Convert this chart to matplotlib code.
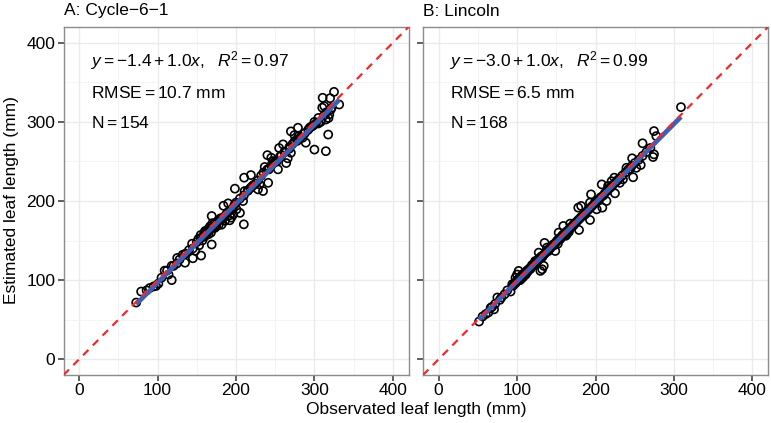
import numpy as np
import matplotlib
matplotlib.use("Agg")
import matplotlib.pyplot as plt

plt.rcParams['font.family'] = ['Liberation Sans', 'DejaVu Sans']
plt.rcParams['mathtext.fontset'] = 'custom'
plt.rcParams['mathtext.rm'] = 'Liberation Sans'
plt.rcParams['mathtext.it'] = 'Liberation Sans:italic'
plt.rcParams['lines.scale_dashes'] = False

# Panel A: Cycle-6-1 (observed, estimated) in mm
obs_a = [72.7, 79, 86, 98, 101, 109, 118, 114, 120.4, 124.6, 135, 136, 145, 144, 148, 155.5, 153, 157,
         160.5, 165, 169, 169, 173, 177.5, 181.6, 184, 186, 190, 192, 194, 196.5, 198.6, 200.6, 205, 209,
         210, 210.4, 211, 219, 228, 230, 234.5, 236.6, 240, 241, 245, 247, 253.5, 255, 260, 264, 266, 270,
         270, 274.6, 279, 279, 289, 294, 300, 310.5, 312.6, 314.6, 314.6, 317.6, 319, 321, 325, 331.6,
         150, 152, 155, 158, 160, 162, 163, 165, 167, 168, 170, 172, 174, 176, 178, 180, 182, 185, 188, 190,
         192, 195, 198, 160, 165, 170, 175, 180, 185, 155, 145, 140, 132, 128, 125, 118, 112, 105, 95, 90,
         300, 305, 308, 310, 312, 315, 318, 320, 322, 305, 298, 285, 280, 275, 268, 262, 258, 250, 245, 240,
         232, 225, 220, 215,
         200, 205, 210, 215, 218, 222, 228, 235, 242, 248, 252, 256, 262, 268, 272, 278, 282, 288, 292, 296,
         302, 135]
est_a = [71.6, 85.5, 87, 92.6, 95.6, 112, 100, 107, 118, 121, 122, 133.5, 127.6, 146, 137, 131, 144, 150,
         162, 158, 145, 181, 166, 175, 170, 194, 175, 197, 175.6, 179, 183, 215.6, 189.5, 185, 200,
         170.5, 229.5, 212.6, 232.8, 214.7, 221, 212.6, 243, 258, 223, 254.7, 250.5, 240, 267, 271.6, 248,
         254, 288, 261, 283.4, 292.6, 278, 273.7, 292.6, 265, 330.5, 320, 263, 303, 284, 309.5, 315.8, 338,
         322,
         148, 152, 153, 156, 160, 158, 163, 162, 168, 160, 166, 171, 169, 174, 170, 178, 177, 180, 184, 186,
         182, 190, 195, 155, 165, 172, 168, 176, 180, 157, 140, 138, 132, 126, 128, 118, 112, 103, 92, 90,
         300, 305, 300, 318, 308, 312, 305, 330, 318, 298, 295, 280, 282, 276, 268, 262, 258, 250, 245, 240,
         232, 222, 218, 213,
         198, 203, 207, 213, 216, 220, 226, 236, 240, 248, 250, 256, 262, 266, 272, 276, 280, 286, 290, 294,
         298, 133]

# Panel B: Lincoln
obs_b = [51.5, 63.4, 66.3, 70.6, 74.8, 87.5, 91.7, 93.8, 98, 100, 102, 104, 108.6, 113, 123, 127.6, 129.7,
         132, 134, 135, 138, 140, 148.7, 153, 155, 159, 163.5, 167.7, 172, 179, 178, 181.7, 186.7, 193,
         194.3, 193, 199.4, 201.5, 208, 208.7, 214, 216, 220.5, 224, 224.8, 231, 235, 239.5, 243.8, 246.7,
         248, 252, 257.7, 260, 273.4, 274.6, 274.6, 277.6, 309,
         95, 97, 99, 100, 101, 102, 103, 104, 105, 106, 107, 108, 110, 111, 112, 114, 115, 116, 118, 120,
         121, 122, 124, 125, 126, 128, 130, 131, 133, 135,
         140, 142, 144, 146, 148, 150, 151, 152, 154, 156, 158, 160, 161, 162, 164, 165, 166, 168, 170, 172,
         174, 176, 178, 180, 182,
         185, 188, 190, 192, 195, 198, 200, 202, 205, 207, 210, 212, 215, 218, 220, 222, 226, 228, 230, 234,
         238, 242, 246, 250, 255, 260, 265, 270, 80, 84, 78, 72, 68, 60, 56,
         98, 102, 106, 109, 113, 117, 119, 123, 127, 129, 132, 137, 139, 143, 147, 153, 157, 163, 167]
est_b = [47.6, 59, 65, 63, 78, 87, 85.5, 94.7, 103, 107, 111.6, 101, 105, 112.4, 124, 134.7, 111.6,
         113.7, 118, 147, 141, 136.8, 136.8, 160, 151.6, 168.4, 158, 171.4, 170.5, 163.4, 191.6, 193.7, 183,
         176, 208.4, 198, 198, 189.5, 221, 191.6, 200, 219, 225, 229.5, 209.7, 223, 227.4, 242, 240, 254,
         230, 242, 245.5, 273, 255.6, 259, 288.4, 282, 318.7,
         93, 96, 98, 100, 99, 101, 103, 100, 104, 106, 103, 108, 109, 107, 111, 112, 113, 115, 116, 118,
         120, 121, 122, 124, 125, 127, 128, 130, 131, 133,
         139, 140, 143, 145, 146, 148, 150, 146, 153, 154, 157, 158, 160, 156, 162, 163, 161, 166, 168, 169,
         172, 174, 176, 178, 180,
         183, 186, 188, 190, 193, 196, 198, 200, 203, 205, 207, 210, 213, 216, 218, 220, 224, 226, 228, 232,
         236, 240, 244, 248, 252, 257, 262, 267, 78, 82, 75, 70, 66, 57, 54,
         96, 100, 104, 108, 110, 114, 119, 121, 125, 128, 129, 135, 137, 141, 144, 151, 155, 160, 165]

titles = ["A: Cycle\u22126\u22121", "B: Lincoln"]
eq_text = [r"$y = -1.4 + 1.0x,\ \ R^2 = 0.97$", r"$y = -3.0 + 1.0x,\ \ R^2 = 0.99$"]
rmse_text = [r"$\mathrm{RMSE} = 10.7\ \mathrm{mm}$", r"$\mathrm{RMSE} = 6.5\ \mathrm{mm}$"]
n_text = [r"$\mathrm{N} = 154$", r"$\mathrm{N} = 168$"]
ticks = [0, 100, 200, 300, 400]
fs = 12.5

fig = plt.figure(figsize=(7.71, 4.23), dpi=100)
W, H = 771, 423
boxes = [(63.5, 27, 345, 348), (423, 27, 345, 348)]
data = [(obs_a, est_a), (obs_b, est_b)]

for i, (l, t, w, h) in enumerate(boxes):
    ax = fig.add_axes([l / W, 1 - (t + h) / H, w / W, h / H])
    x, y = np.array(data[i][0]), np.array(data[i][1])

    ax.set_xlim(-20, 420)
    ax.set_ylim(-20, 420)
    ax.set_xticks(ticks)
    ax.set_yticks(ticks)
    ax.set_xticks([50, 150, 250, 350], minor=True)
    ax.set_yticks([50, 150, 250, 350], minor=True)
    ax.grid(which='major', color='#ebebeb', lw=1.0)
    ax.grid(which='minor', color='#f2f2f2', lw=0.6)
    ax.set_axisbelow(True)
    ax.tick_params(which='minor', length=0)
    ax.tick_params(which='major', length=4, width=1.1, color='#333333',
                   labelsize=fs, labelcolor='black', pad=2)
    if i == 1:
        ax.set_yticklabels([])
    for s in ax.spines.values():
        s.set_color('#8c8c8c')
        s.set_linewidth(1.0)

    ax.scatter(x, y, s=34, facecolors='none', edgecolors='black', linewidths=1.2, zorder=3)

    # least-squares fit
    b, a = np.polyfit(x, y, 1)
    xs = np.array([x.min(), x.max()])
    ax.plot(xs, a + b * xs, color='#3f5fb4', lw=3.4, solid_capstyle='butt', zorder=4)

    ax.axline((0, 0), slope=1, color='#f02a2a', lw=1.6, dashes=(5.5, 4.5), zorder=5)

    ax.text(15, 377, eq_text[i], fontsize=fs, va='center')
    ax.text(15, 337, rmse_text[i], fontsize=fs, va='center')
    ax.text(15, 298, n_text[i], fontsize=fs, va='center')

    fig.text(l / W, 1 - 11 / H, titles[i], fontsize=fs, va='center', ha='left')

fig.text(416 / W, 1 - 409 / H, "Observated leaf length (mm)", fontsize=fs, ha='center', va='center')
fig.text(12 / W, 1 - 200 / H, "Estimated leaf length (mm)", fontsize=fs, ha='center', va='center',
         rotation=90)

fig.savefig("out.png", dpi=100)
